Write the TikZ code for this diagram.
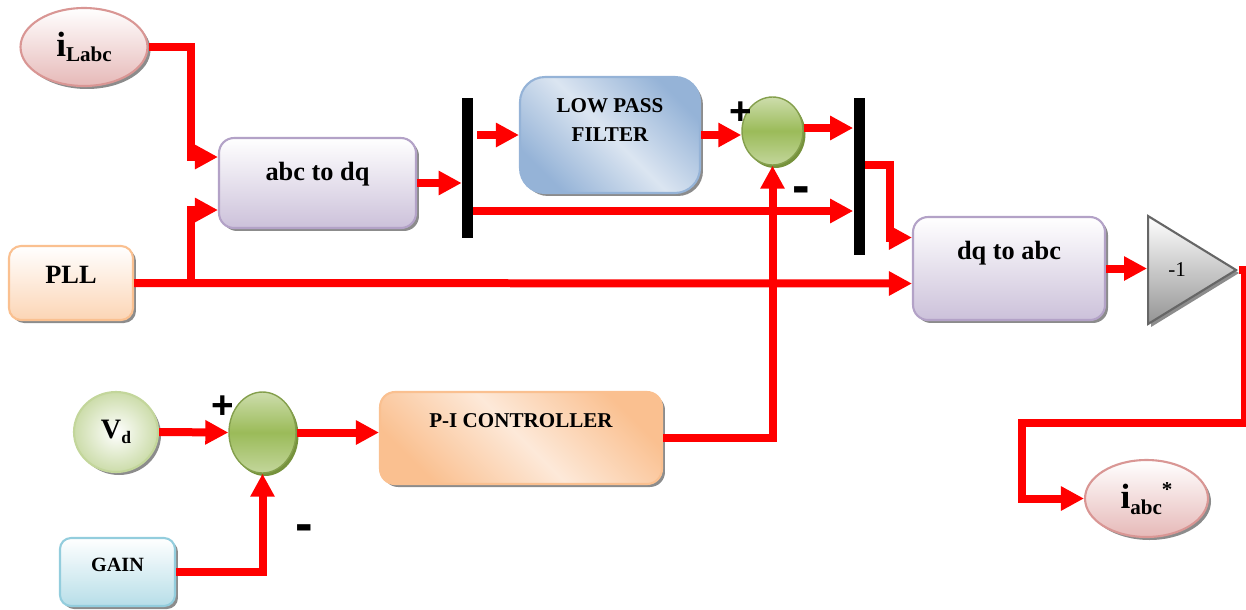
\documentclass[tikz,border=0pt]{standalone}
\usepackage{fontspec}
\setmainfont{Liberation Serif}
\setsansfont{Liberation Sans}
\usepackage{tikz}
\usetikzlibrary{arrows.meta,positioning,calc,shapes.geometric,shadows}
\definecolor{wred}{HTML}{FF0000}
\definecolor{pinkb}{HTML}{D99694}
\definecolor{pinkf}{HTML}{E6B9B8}
\definecolor{lilacb}{HTML}{B3A2C7}
\definecolor{lilacf}{HTML}{CCC1DA}
\definecolor{peachb}{HTML}{FAC090}
\definecolor{peachf}{HTML}{FCD5B5}
\definecolor{peachl}{HTML}{FDE9D9}
\definecolor{blueb}{HTML}{95B3D7}
\definecolor{bluef}{HTML}{DBE5F1}
\definecolor{sumg}{HTML}{9BBB59}
\definecolor{sumgd}{HTML}{76923C}
\definecolor{leafb}{HTML}{C3D69B}
\definecolor{leaff}{HTML}{EBF1DE}
\definecolor{aquab}{HTML}{93CDDD}
\definecolor{aquaf}{HTML}{B7DEE8}
\newcommand\subtxt[2][-2pt]{\raisebox{#1}{\fontsize{12}{12}\selectfont #2}}
\tikzset{
  shad/.style={drop shadow={shadow xshift=0.06cm,shadow yshift=-0.06cm,fill=black!45,opacity=1}},
  blk/.style={rectangle,rounded corners=0.3cm,line width=1.2pt,shad,align=center,inner sep=0pt,font=\fontsize{15}{18}\selectfont\bfseries,text height=0.4cm},
  conv/.style={blk,draw=lilacb,top color=white,bottom color=lilacf},
  oval/.style={ellipse,inner sep=0pt,line width=1.2pt,shad,font=\bfseries},
  src/.style={oval,draw=pinkb,top color=white,bottom color=pinkf},
  sumb/.style={ellipse,inner sep=0pt,line width=0.8pt,draw=sumg!85!black,top color=sumg!50!white,bottom color=sumg!60!white,middle color=sumg,
    drop shadow={shadow xshift=0.05cm,shadow yshift=-0.06cm,fill=sumgd,opacity=1}},
  bar/.style={rectangle,fill=black,inner sep=0pt,minimum width=0.22cm},
  amp/.style={isosceles triangle,isosceles triangle stretches,inner sep=0pt,line width=1.2pt,draw=black!60,top color=white,bottom color=black!42,shad,font=\fontsize{12}{14}\selectfont},
  wire/.style={draw=wred,line width=0.16cm,-{Triangle[length=0.46cm,width=0.46cm]}},
  sign/.style={inner sep=0pt},
}
\begin{document}
\begin{tikzpicture}[x=0.02cm,y=-0.02cm]
  \useasboundingbox (0,0) rectangle (1246,609);
  % blocks
  \node[src,minimum width=2.54cm,minimum height=1.56cm] (iL) at (84,47) {{\fontsize{20}{20}\selectfont i}\subtxt[-3pt]{Labc}};
  \node[conv,minimum width=3.94cm,minimum height=1.8cm,text depth=0.52cm] (abc) at (317.5,183) {abc to dq};
  \node[blk,rounded corners=0.24cm,draw=peachb,top color=white,bottom color=peachf,minimum width=2.48cm,minimum height=1.48cm,text depth=0.4cm] (pll) at (71,283) {PLL};
  \node[bar,minimum height=2.8cm] (bar1) at (467.5,168) {};
  \node[blk,rounded corners=0.5cm,draw=blueb,top color=blueb,bottom color=blueb,middle color=bluef,shading angle=-45,
        minimum width=3.6cm,minimum height=2.32cm,font=\fontsize{12}{16}\selectfont\bfseries,text depth=0.16cm] (lpf) at (610,135) {LOW PASS\\FILTER};
  \node[sumb,minimum width=1.22cm,minimum height=1.36cm] (sum1) at (772.5,131) {};
  \node[bar,minimum height=3.14cm] (bar2) at (859,176.5) {};
  \node[conv,minimum width=3.84cm,minimum height=2.06cm,text depth=0.78cm] (dq) at (1009,268.5) {dq to abc};
  \node[amp,minimum width=2.16cm,minimum height=1.76cm,anchor=lower side] (neg) at (1147,270) {-1};
  \node[src,minimum width=2.46cm,minimum height=1.54cm] (iabc) at (1146.5,498.5) {{\fontsize{20}{20}\selectfont i}\subtxt[-3pt]{abc}\raisebox{7pt}{\fontsize{12}{12}\selectfont *}};
  \node[oval,draw=leafb,inner color=white,outer color=leafb!85,minimum width=1.68cm,minimum height=1.6cm] (vd) at (116,432) {{\fontsize{16}{18}\selectfont V}\subtxt[-3pt]{\fontsize{10}{10}\selectfont d}};
  \node[sumb,minimum width=1.34cm,minimum height=1.62cm] (sum2) at (262.5,432.5) {};
  \node[blk,draw=peachb,top color=peachb,bottom color=peachb,middle color=peachl,shading angle=-45,
        minimum width=5.64cm,minimum height=1.84cm,font=\fontsize{12}{14}\selectfont\bfseries,text depth=0.84cm] (pi) at (521,438) {P-I CONTROLLER};
  \node[blk,rounded corners=0.22cm,draw=aquab,top color=white,bottom color=aquaf,minimum width=2.3cm,minimum height=1.36cm,
        font=\fontsize{11.5}{14}\selectfont\bfseries,text depth=0.42cm] (gain) at (117.5,572) {GAIN};
  % signs
  \foreach \n/\p/\s/\f in {a/{(741,113)}/+/22,b/{(801,195)}/-/30,c/{(223,407)}/+/22,d/{(304,533)}/-/30}
    \node[sign,font={\sffamily\bfseries\fontsize{\f}{\f}\selectfont}] (s\n) at \p {\s};
  % connectors
  \coordinate (br) at ($(pll.east)+(57,0)$);
  \coordinate (lo) at ($(bar1.east)+(0,43)$);
  \draw[wire] (iL.east) -- ++(42,0) |- ($(abc.west)+(0,-26)$);
  \draw[wire] (pll.east) -- ($(dq.west)+(0,15)$);
  \draw[wire] (br) |- ($(abc.west)+(0,27)$);
  \draw[wire] (abc.east) -- (abc.east -| bar1.west);
  \draw[wire] ($(bar1.east |- lpf.west)+(4,0)$) -- (lpf.west);
  \draw[wire] (lo) -- (lo -| bar2.west);
  \draw[wire] (lpf.east) -- (lpf.east -| sum1.west);
  \draw[wire] ($(sum1.east)+(0,-3)$) -- ($(sum1.east -| bar2.west)+(0,-3)$);
  \draw[wire] ($(bar2.east)+(0,-12)$) -- ++(25,0) |- ($(dq.west)+(0,-31)$);
  \draw[wire] (dq.east) -- (dq.east -| neg.lower side);
  \draw[wire] (neg.apex) -- ++(6,0) |- (1022,423) |- (iabc.west);
  \draw[wire] (vd.east) -- (sum2.west);
  \draw[wire] (sum2.east) -- (sum2.east -| pi.west);
  \draw[wire] (pi.east) -| (sum1.south);
  \draw[wire] (gain.east) -| (sum2.south);
\end{tikzpicture}
\end{document}
